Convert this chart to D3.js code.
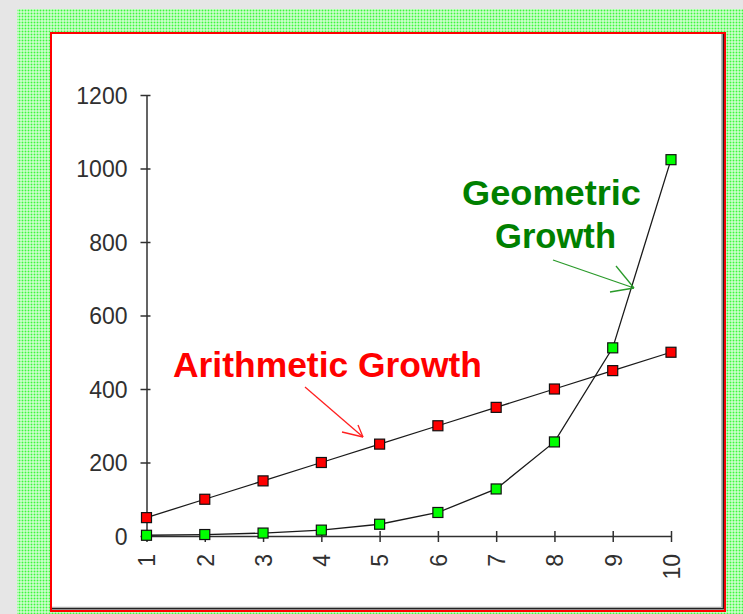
<!DOCTYPE html>
<html>
<head>
<meta charset="utf-8">
<script src="https://cdn.jsdelivr.net/npm/d3@7"></script>
<style>
html,body{margin:0;padding:0;background:#e6e6e6;}
svg{display:block;}
</style>
</head>
<body>
<svg id="chart" width="743" height="614"></svg>
<script>
const categories = ["1","2","3","4","5","6","7","8","9","10"];
const arithmetic = [50,100,150,200,250,300,350,400,450,500];
const geometric = [2,4,8,16,32,64,128,256,512,1024];
const yTicks = [0,200,400,600,800,1000,1200];

const svg = d3.select("#chart");
const defs = svg.append("defs");
const pat = defs.append("pattern").attr("id","dots").attr("patternUnits","userSpaceOnUse")
  .attr("width",3).attr("height",3);
pat.append("rect").attr("width",3).attr("height",3).attr("fill","#f2fff2");
pat.append("rect").attr("x",0.5).attr("y",0.5).attr("width",2).attr("height",2).attr("fill","#3cf83c");

// background
svg.append("rect").attr("width",743).attr("height",614).attr("fill","#e6e6e6");
svg.append("rect").attr("x",17).attr("y",9).attr("width",726).attr("height",605).attr("fill","url(#dots)");
// white panel with red border and dark inner shadow
svg.append("rect").attr("x",51).attr("y",33).attr("width",674).attr("height",578)
  .attr("fill","#fff").attr("stroke","#ff0000").attr("stroke-width",2);
svg.append("path").attr("d","M723.3,34 V608.8 H52").attr("fill","none").attr("stroke","#222").attr("stroke-width",1.6);
svg.append("path").attr("d","M721.8,34 V607.3 H52").attr("fill","none").attr("stroke","#999").attr("stroke-width",1);

const x = d3.scalePoint().domain(categories).range([146.5,671]);
const y = d3.scaleLinear().domain([0,1200]).range([536,95]);

const axisColor = "#303030";
const font = "'Liberation Sans',Arial,sans-serif";
// Y axis
const ya = svg.append("g").attr("transform","translate(146.5,0)")
  .call(d3.axisLeft(y).tickValues(yTicks).tickFormat(d3.format("d")).tickSizeInner(6).tickSizeOuter(0).tickPadding(13));
ya.select(".domain").attr("stroke",axisColor).attr("stroke-width",1.5);
ya.selectAll(".tick line").attr("stroke",axisColor).attr("stroke-width",1.5).attr("x2",-6).attr("x1",4);
ya.selectAll(".tick text").attr("fill",axisColor).style("font-family",font)
  .style("font-size","23px").attr("dy","0.36em");

// X axis
const xa = svg.append("g").attr("transform","translate(0,536)")
  .call(d3.axisBottom(x).tickSizeInner(5).tickSizeOuter(0).tickPadding(0));
xa.select(".domain").attr("stroke",axisColor).attr("stroke-width",1.5);
xa.selectAll(".tick line").attr("stroke",axisColor).attr("stroke-width",1.5).attr("y1",-5).attr("y2",6);
xa.selectAll(".tick text").attr("fill",axisColor).style("font-family",font)
  .style("font-size","23px").attr("text-anchor","end").attr("dy","0.36em")
  .attr("transform","translate(0,18) rotate(-90)").attr("y",0).attr("x",0);

// Lines
const line = d3.line().x((d,i)=>x(categories[i])).y(d=>y(d));
svg.append("path").datum(geometric).attr("d",line).attr("fill","none").attr("stroke","#1a1a1a").attr("stroke-width",1.3);
svg.append("path").datum(arithmetic).attr("d",line).attr("fill","none").attr("stroke","#1a1a1a").attr("stroke-width",1.3);

const ms = 10;
function markers(data, color){
  svg.append("g").selectAll("rect").data(data).join("rect")
    .attr("x",(d,i)=>x(categories[i])-ms/2).attr("y",d=>y(d)-ms/2)
    .attr("width",ms).attr("height",ms).attr("fill",color)
    .attr("stroke","#111").attr("stroke-width",1.2);
}
markers(geometric,"#00ff00");
markers(arithmetic,"#ff0000");

// Annotations
svg.append("text").attr("x",173).attr("y",377).text("Arithmetic Growth")
  .attr("textLength",309).attr("lengthAdjust","spacingAndGlyphs")
  .attr("fill","#ff0000").style("font-family",font).style("font-weight","bold").style("font-size","35px");
const gt = svg.append("text").attr("fill","#008000").style("font-family",font).style("font-weight","bold")
  .style("font-size","35px");
gt.append("tspan").attr("x",462).attr("y",205).attr("textLength",179).attr("lengthAdjust","spacingAndGlyphs").text("Geometric");
gt.append("tspan").attr("x",495).attr("y",248).attr("textLength",121).attr("lengthAdjust","spacingAndGlyphs").text("Growth");

// arrows
function arrow(x1,y1,x2,y2,h1,h2,color){
  const g = svg.append("g").attr("stroke",color).attr("stroke-width",1.3).attr("fill","none");
  g.append("line").attr("x1",x1).attr("y1",y1).attr("x2",x2).attr("y2",y2);
  g.append("line").attr("x1",h1[0]).attr("y1",h1[1]).attr("x2",x2).attr("y2",y2);
  g.append("line").attr("x1",h2[0]).attr("y1",h2[1]).attr("x2",x2).attr("y2",y2);
}
arrow(305,387,363,437,[358,425],[342,432],"#ff2020");
arrow(553,260,634,288,[616,266],[610,292],"#2a9a2a");
</script>
</body>
</html>
